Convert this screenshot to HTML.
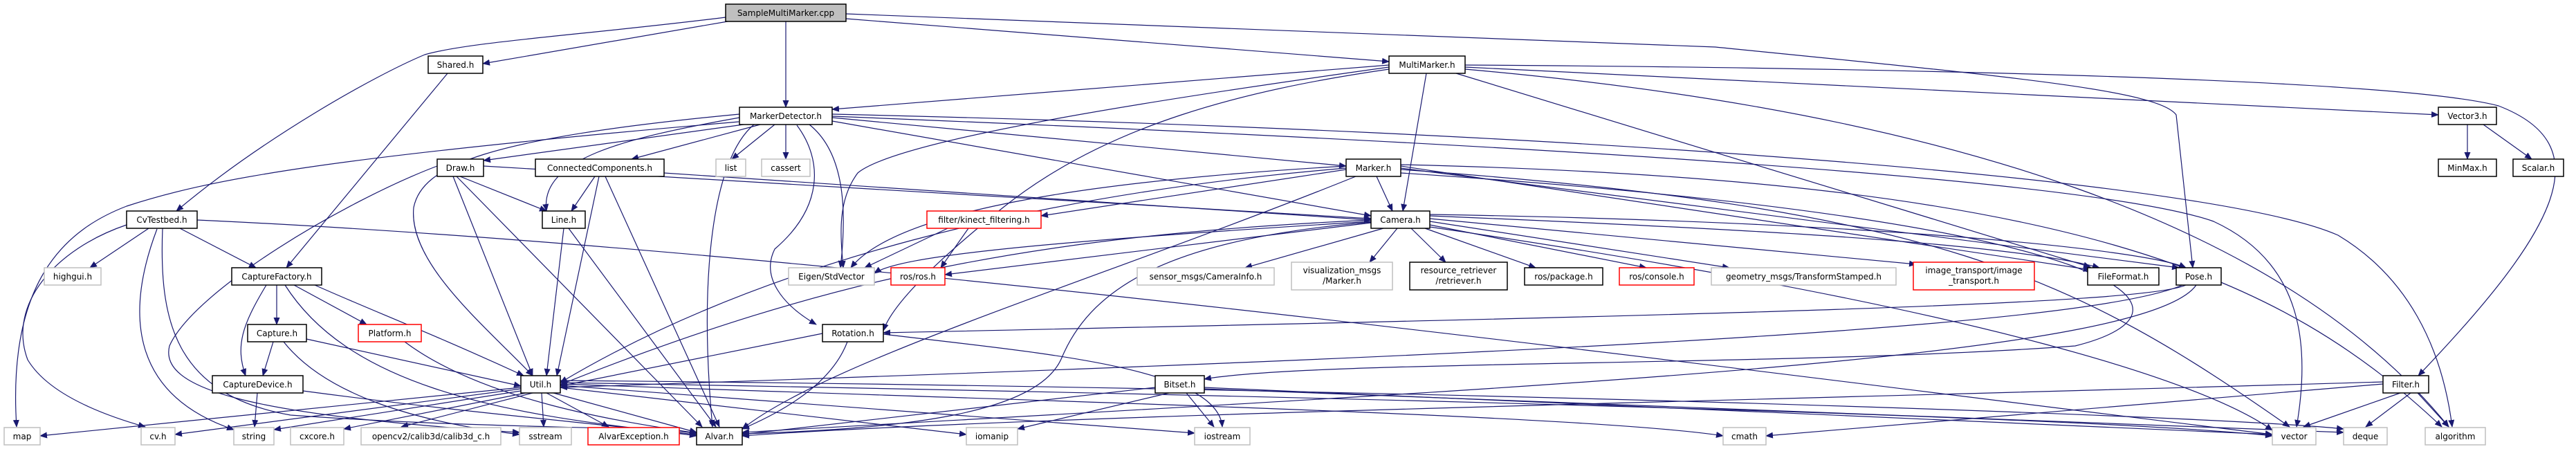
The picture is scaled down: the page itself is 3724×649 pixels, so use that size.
<!DOCTYPE html>
<html><head><meta charset="utf-8"><style>
html,body{margin:0;padding:0;background:#fff;}
svg{display:block;}
text{font-family:"DejaVu Sans","Liberation Sans",sans-serif;font-size:12px;fill:#000;}
.e{fill:none;stroke:#191970;stroke-width:1.2;marker-end:url(#a);}
.n{fill:#fff;stroke:#000;stroke-width:1.5;}
.g{fill:#fff;stroke:#bfbfbf;stroke-width:1.5;}
.r{fill:#fff;stroke:#ff0000;stroke-width:1.5;}
.s{fill:#bfbfbf;stroke:#000;stroke-width:1.5;}
</style></head><body>
<svg width="3724" height="649" viewBox="0 0 3724 649" xmlns="http://www.w3.org/2000/svg">
<defs><marker id="a" markerUnits="userSpaceOnUse" markerWidth="11" markerHeight="9" refX="10" refY="4.5" orient="auto"><path d="M0,0 L11,4.5 L0,9 z" fill="#191970"/></marker></defs>
<g>
<path class="e" d="M1052,31 L698,92"/>
<path class="e" d="M1049,25 C850,50 680,60 614,79 C540,110 380,200 255,305"/>
<path class="e" d="M1136,31 L1136,155"/>
<path class="e" d="M1223,27 L2008,89"/>
<path class="e" d="M1223,20 L2480,68 C2900,110 3120,130 3146,166 L3170,387"/>
<path class="e" d="M647,106 L414,387"/>
<path class="e" d="M2008,94 L1203,158"/>
<path class="e" d="M2062,106 L2028,305"/>
<path class="e" d="M2008,97 C1700,140 1300,200 1240,250 C1210,290 1215,340 1219,387"/>
<path class="e" d="M2008,100 C1800,130 1600,180 1450,300 C1350,380 1290,440 1277,478"/>
<path class="e" d="M2118,97 L3525,166"/>
<path class="e" d="M2118,94 C2600,97 3450,110 3612,153 C3760,210 3700,330 3496,543"/>
<path class="e" d="M2105,106 L3022,386"/>
<path class="e" d="M2118,100 C2800,160 3300,320 3540,617"/>
<path class="e" d="M1075,180 L699,232"/>
<path class="e" d="M1099,180 L913,230"/>
<path class="e" d="M1120,180 L1058,230"/>
<path class="e" d="M1136,180 L1136,230"/>
<path class="e" d="M1069,170 C900,200 780,230 790,305"/>
<path class="e" d="M1069,165 C700,200 610,240 598,300 C590,380 700,470 770,543"/>
<path class="e" d="M1068,176 C462,228 300,260 183,298 C100,330 10,400 24,617"/>
<path class="e" d="M1090,180 C1030,230 1010,400 1030,617"/>
<path class="e" d="M1152,181 C1190,232 1190,300 1120,360 C1100,400 1130,440 1180,469"/>
<path class="e" d="M1170,180 C1220,220 1225,300 1215,387"/>
<path class="e" d="M1203,170 L1946,240"/>
<path class="e" d="M1203,175 L1982,312"/>
<path class="e" d="M1203,168 C2000,200 3000,250 3200,320 C3330,380 3340,500 3320,617"/>
<path class="e" d="M1203,165 C2300,190 3200,260 3380,340 C3480,400 3530,500 3545,617"/>
<path class="e" d="M665,255 L790,305"/>
<path class="e" d="M655,255 L770,543"/>
<path class="e" d="M660,255 L1015,617"/>
<path class="e" d="M699,240 L1982,316"/>
<path class="e" d="M632,240 C500,290 280,420 245,500 C230,560 350,600 751,625"/>
<path class="e" d="M860,255 L826,305"/>
<path class="e" d="M866,255 L805,543"/>
<path class="e" d="M875,255 L1040,617"/>
<path class="e" d="M960,250 L1982,318"/>
<path class="e" d="M815,330 L790,543"/>
<path class="e" d="M822,330 L1035,617"/>
<path class="e" d="M215,330 L130,387"/>
<path class="e" d="M260,330 L370,387"/>
<path class="e" d="M183,325 C80,360 10,440 40,520 C70,570 150,600 210,617"/>
<path class="e" d="M227,331 C180,455 190,571 338,621"/>
<path class="e" d="M235,330 C230,460 250,570 420,600 C700,620 900,615 1007,626"/>
<path class="e" d="M285,318 C1200,360 2400,520 3285,628"/>
<path class="e" d="M400,412 L400,469"/>
<path class="e" d="M425,412 L530,469"/>
<path class="e" d="M385,412 C350,470 340,500 355,543"/>
<path class="e" d="M455,412 C540,450 620,480 757,543"/>
<path class="e" d="M412,412 C500,550 700,600 1007,628"/>
<path class="e" d="M395,494 L380,543"/>
<path class="e" d="M443,490 L753,558"/>
<path class="e" d="M410,494 C470,570 600,610 751,628"/>
<path class="e" d="M585,494 C700,580 900,610 1007,626"/>
<path class="e" d="M372,568 L368,617"/>
<path class="e" d="M438,565 C700,600 900,615 1007,630"/>
<path class="e" d="M1189,482 L810,558"/>
<path class="e" d="M1225,494 C1200,560 1120,600 1073,620"/>
<path class="e" d="M1277,483 C1500,510 1760,530 1767,617"/>
<path class="e" d="M3160,412 C3100,440 2500,455 1277,481"/>
<path class="e" d="M3155,412 C3000,480 2000,520 810,560"/>
<path class="e" d="M3175,412 C3100,520 2200,560 1073,625"/>
<path class="e" d="M753,560 L58,630"/>
<path class="e" d="M753,562 L253,628"/>
<path class="e" d="M753,565 L396,621"/>
<path class="e" d="M760,568 L497,620"/>
<path class="e" d="M770,568 L580,617"/>
<path class="e" d="M783,568 L786,617"/>
<path class="e" d="M790,568 L880,617"/>
<path class="e" d="M800,568 L1007,625"/>
<path class="e" d="M810,560 L1397,628"/>
<path class="e" d="M810,557 L1727,626"/>
<path class="e" d="M810,555 C1500,580 2300,600 2491,630"/>
<path class="e" d="M810,553 C1800,570 3000,600 3285,630"/>
<path class="e" d="M810,550 C2000,560 3200,600 3388,620"/>
<path class="e" d="M1990,255 L2013,305"/>
<path class="e" d="M1946,245 L1505,312"/>
<path class="e" d="M1946,240 C1600,260 1300,300 1230,387"/>
<path class="e" d="M1946,243 C1500,280 1100,380 810,553"/>
<path class="e" d="M1960,255 C1600,400 1200,520 1073,620"/>
<path class="e" d="M2025,240 L3022,390"/>
<path class="e" d="M2025,243 L3150,387"/>
<path class="e" d="M2025,245 C2800,300 3000,400 3310,617"/>
<path class="e" d="M2025,238 C3000,260 3300,400 3530,617"/>
<path class="e" d="M2025,250 C3100,320 3200,450 3000,500 C2600,530 1900,520 1741,548"/>
<path class="e" d="M1370,330 L1250,387"/>
<path class="e" d="M1400,330 L1360,387"/>
<path class="e" d="M1982,322 L1366,397"/>
<path class="e" d="M2000,330 L1800,387"/>
<path class="e" d="M2020,330 L1980,379"/>
<path class="e" d="M2040,330 L2090,379"/>
<path class="e" d="M2060,330 L2220,387"/>
<path class="e" d="M2067,325 L2380,387"/>
<path class="e" d="M2067,320 L2500,387"/>
<path class="e" d="M2067,316 L2770,382"/>
<path class="e" d="M2067,312 C2500,330 2900,350 3035,387"/>
<path class="e" d="M2067,310 C2700,320 3100,360 3160,387"/>
<path class="e" d="M1982,318 C1500,340 1200,400 810,556"/>
<path class="e" d="M1982,321 C1700,345 1580,410 1535,517 C1500,600 1300,620 1073,627"/>
<path class="e" d="M1982,320 C1500,350 1300,370 1264,395"/>
<path class="e" d="M2067,328 C2900,450 3200,560 3285,622"/>
<path class="e" d="M1690,568 L1471,620"/>
<path class="e" d="M1715,568 L1755,617"/>
<path class="e" d="M1670,560 L1073,628"/>
<path class="e" d="M1741,560 L3285,628"/>
<path class="e" d="M1741,562 L3388,625"/>
<path class="e" d="M3470,568 L3330,617"/>
<path class="e" d="M3485,568 L3420,617"/>
<path class="e" d="M3495,568 L3540,617"/>
<path class="e" d="M3445,555 L2553,630"/>
<path class="e" d="M3445,552 C2500,580 1500,600 1073,630"/>
<path class="e" d="M3567,180 L3567,230"/>
<path class="e" d="M3590,180 L3660,230"/>
</g>
<g>
<rect class="s" x="1049" y="6" width="174" height="25"/><text x="1136" y="23" text-anchor="middle">SampleMultiMarker.cpp</text>
<rect class="n" x="619" y="81" width="79" height="25"/><text x="658.5" y="98" text-anchor="middle">Shared.h</text>
<rect class="n" x="2008" y="81" width="110" height="25"/><text x="2063" y="98" text-anchor="middle">MultiMarker.h</text>
<rect class="n" x="1069" y="155" width="134" height="25"/><text x="1136" y="172" text-anchor="middle">MarkerDetector.h</text>
<rect class="n" x="3525" y="155" width="84" height="25"/><text x="3567" y="172" text-anchor="middle">Vector3.h</text>
<rect class="n" x="632" y="230" width="67" height="25"/><text x="665.5" y="247" text-anchor="middle">Draw.h</text>
<rect class="n" x="774" y="230" width="186" height="25"/><text x="867" y="247" text-anchor="middle">ConnectedComponents.h</text>
<rect class="g" x="1035" y="230" width="43" height="25"/><text x="1056.5" y="247" text-anchor="middle">list</text>
<rect class="g" x="1101" y="230" width="70" height="25"/><text x="1136" y="247" text-anchor="middle">cassert</text>
<rect class="n" x="1946" y="230" width="79" height="25"/><text x="1985.5" y="247" text-anchor="middle">Marker.h</text>
<rect class="n" x="3525" y="230" width="84" height="25"/><text x="3567" y="247" text-anchor="middle">MinMax.h</text>
<rect class="n" x="3633" y="230" width="73" height="25"/><text x="3669.5" y="247" text-anchor="middle">Scalar.h</text>
<rect class="n" x="183" y="305" width="102" height="25"/><text x="234" y="322" text-anchor="middle">CvTestbed.h</text>
<rect class="n" x="784" y="305" width="62" height="25"/><text x="815" y="322" text-anchor="middle">Line.h</text>
<rect class="r" x="1340" y="305" width="165" height="25"/><text x="1422.5" y="322" text-anchor="middle">filter/kinect_filtering.h</text>
<rect class="n" x="1982" y="305" width="85" height="25"/><text x="2024.5" y="322" text-anchor="middle">Camera.h</text>
<rect class="g" x="64" y="387" width="82" height="25"/><text x="105" y="404" text-anchor="middle">highgui.h</text>
<rect class="n" x="335" y="387" width="130" height="25"/><text x="400" y="404" text-anchor="middle">CaptureFactory.h</text>
<rect class="g" x="1140" y="387" width="124" height="25"/><text x="1202" y="404" text-anchor="middle">Eigen/StdVector</text>
<rect class="r" x="1288" y="387" width="78" height="25"/><text x="1327" y="404" text-anchor="middle">ros/ros.h</text>
<rect class="g" x="1644" y="387" width="198" height="25"/><text x="1743" y="404" text-anchor="middle">sensor_msgs/CameraInfo.h</text>
<rect class="g" x="1867" y="379" width="146" height="40"/><text x="1940" y="395" text-anchor="middle">visualization_msgs</text><text x="1940" y="410" text-anchor="middle">/Marker.h</text>
<rect class="n" x="2038" y="379" width="141" height="40"/><text x="2108.5" y="395" text-anchor="middle">resource_retriever</text><text x="2108.5" y="410" text-anchor="middle">/retriever.h</text>
<rect class="n" x="2204" y="387" width="113" height="25"/><text x="2260.5" y="404" text-anchor="middle">ros/package.h</text>
<rect class="r" x="2341" y="387" width="108" height="25"/><text x="2395" y="404" text-anchor="middle">ros/console.h</text>
<rect class="g" x="2474" y="387" width="267" height="25"/><text x="2607.5" y="404" text-anchor="middle">geometry_msgs/TransformStamped.h</text>
<rect class="r" x="2766" y="379" width="175" height="40"/><text x="2853.5" y="395" text-anchor="middle">image_transport/image</text><text x="2853.5" y="410" text-anchor="middle">_transport.h</text>
<rect class="n" x="3018" y="387" width="103" height="25"/><text x="3069.5" y="404" text-anchor="middle">FileFormat.h</text>
<rect class="n" x="3146" y="387" width="65" height="25"/><text x="3178.5" y="404" text-anchor="middle">Pose.h</text>
<rect class="n" x="358" y="469" width="85" height="25"/><text x="400.5" y="486" text-anchor="middle">Capture.h</text>
<rect class="r" x="518" y="469" width="91" height="25"/><text x="563.5" y="486" text-anchor="middle">Platform.h</text>
<rect class="n" x="1189" y="469" width="88" height="25"/><text x="1233" y="486" text-anchor="middle">Rotation.h</text>
<rect class="n" x="307" y="543" width="131" height="25"/><text x="372.5" y="560" text-anchor="middle">CaptureDevice.h</text>
<rect class="n" x="753" y="543" width="57" height="25"/><text x="781.5" y="560" text-anchor="middle">Util.h</text>
<rect class="n" x="1670" y="543" width="71" height="25"/><text x="1705.5" y="560" text-anchor="middle">Bitset.h</text>
<rect class="n" x="3445" y="543" width="66" height="25"/><text x="3478" y="560" text-anchor="middle">Filter.h</text>
<rect class="g" x="6" y="618" width="52" height="25"/><text x="32" y="635" text-anchor="middle">map</text>
<rect class="g" x="204" y="618" width="49" height="25"/><text x="228.5" y="635" text-anchor="middle">cv.h</text>
<rect class="g" x="338" y="618" width="58" height="25"/><text x="367" y="635" text-anchor="middle">string</text>
<rect class="g" x="420" y="618" width="77" height="25"/><text x="458.5" y="635" text-anchor="middle">cxcore.h</text>
<rect class="g" x="522" y="618" width="202" height="25"/><text x="623" y="635" text-anchor="middle">opencv2/calib3d/calib3d_c.h</text>
<rect class="g" x="751" y="618" width="75" height="25"/><text x="788.5" y="635" text-anchor="middle">sstream</text>
<rect class="r" x="850" y="618" width="132" height="25"/><text x="916" y="635" text-anchor="middle">AlvarException.h</text>
<rect class="n" x="1007" y="618" width="66" height="25"/><text x="1040" y="635" text-anchor="middle">Alvar.h</text>
<rect class="g" x="1397" y="618" width="74" height="25"/><text x="1434" y="635" text-anchor="middle">iomanip</text>
<rect class="g" x="1727" y="618" width="80" height="25"/><text x="1767" y="635" text-anchor="middle">iostream</text>
<rect class="g" x="2491" y="618" width="62" height="25"/><text x="2522" y="635" text-anchor="middle">cmath</text>
<rect class="g" x="3285" y="618" width="63" height="25"/><text x="3316.5" y="635" text-anchor="middle">vector</text>
<rect class="g" x="3388" y="618" width="63" height="25"/><text x="3419.5" y="635" text-anchor="middle">deque</text>
<rect class="g" x="3506" y="618" width="87" height="25"/><text x="3549.5" y="635" text-anchor="middle">algorithm</text>
</g>
</svg>
</body></html>
